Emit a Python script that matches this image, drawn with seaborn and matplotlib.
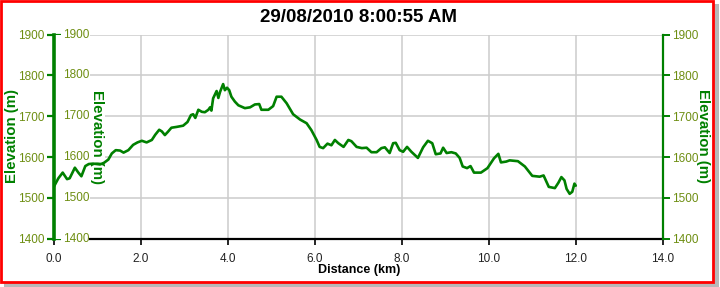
import matplotlib
matplotlib.use("Agg")
import matplotlib.pyplot as plt
import matplotlib.transforms as mtransforms
from matplotlib.patches import Rectangle
import seaborn as sns
import pandas as pd

# ---- data -------------------------------------------------------------
distance_km = [0.00, 0.10, 0.20, 0.30, 0.36, 0.48, 0.56, 0.63, 0.72, 0.80,
               0.90, 1.06, 1.15, 1.25, 1.33, 1.42, 1.52, 1.60, 1.71, 1.82,
               1.92, 2.02, 2.13, 2.25, 2.33, 2.42, 2.48, 2.55, 2.62, 2.70,
               2.82, 2.97, 3.07, 3.15, 3.20, 3.25, 3.32, 3.40, 3.47, 3.55,
               3.59, 3.62, 3.66, 3.74, 3.78, 3.82, 3.89, 3.93, 3.98, 4.03,
               4.08, 4.16, 4.24, 4.39, 4.51, 4.62, 4.72, 4.77, 4.93, 5.04,
               5.12, 5.23, 5.35, 5.50, 5.66, 5.81, 5.92, 6.04, 6.11, 6.19,
               6.29, 6.38, 6.46, 6.54, 6.66, 6.77, 6.84, 6.96, 7.08, 7.19,
               7.30, 7.42, 7.53, 7.61, 7.72, 7.80, 7.86, 7.95, 8.03, 8.12,
               8.22, 8.37, 8.49, 8.60, 8.70, 8.78, 8.89, 8.95, 9.03, 9.14,
               9.24, 9.33, 9.40, 9.50, 9.58, 9.66, 9.82, 9.97, 10.12, 10.22,
               10.28, 10.40, 10.48, 10.67, 10.83, 11.00, 11.17, 11.26, 11.38, 11.52,
               11.60, 11.67, 11.74, 11.79, 11.86, 11.92, 11.97, 12.00]
elevation_m = [1528, 1548, 1562, 1546, 1548, 1574, 1562, 1553, 1578, 1583,
               1584, 1582, 1586, 1594, 1609, 1617, 1616, 1611, 1617, 1630,
               1636, 1640, 1636, 1642, 1655, 1667, 1663, 1654, 1662, 1672,
               1674, 1677, 1686, 1703, 1705, 1696, 1716, 1711, 1710, 1716,
               1722, 1714, 1744, 1762, 1745, 1760, 1779, 1764, 1770, 1764,
               1748, 1736, 1727, 1720, 1722, 1729, 1730, 1716, 1716, 1725,
               1748, 1748, 1732, 1705, 1692, 1683, 1666, 1642, 1625, 1622,
               1633, 1629, 1642, 1634, 1625, 1642, 1639, 1625, 1622, 1623,
               1612, 1612, 1622, 1624, 1610, 1634, 1635, 1617, 1613, 1625,
               1613, 1598, 1624, 1640, 1634, 1607, 1609, 1623, 1610, 1612,
               1609, 1598, 1577, 1573, 1578, 1562, 1562, 1573, 1597, 1608,
               1587, 1589, 1592, 1590, 1577, 1554, 1552, 1555, 1527, 1524,
               1537, 1551, 1543, 1522, 1510, 1515, 1535, 1530]
y_ticks = [1400, 1500, 1600, 1700, 1800, 1900]
x_ticks = [0, 2, 4, 6, 8, 10, 12, 14]
x_tick_labels = ["0.0", "2.0", "4.0", "6.0", "8.0", "10.0", "12.0", "14.0"]
title_text = "29/08/2010 8:00:55 AM"
x_label = "Distance (km)"
y_label = "Elevation (m)"

df = pd.DataFrame({"distance": distance_km, "elevation": elevation_m})

# ---- style ------------------------------------------------------------
sns.set_theme(style="white")
plt.rcParams['font.family'] = ['Liberation Sans', 'DejaVu Sans']

GREEN = '#008000'
OLIVE = '#6E8E12'
W, H = 720, 287


def fx(px):
    return px / W


def fy(py):
    return 1 - py / H


fig = plt.figure(figsize=(7.2, 2.87), dpi=100)
fig.patch.set_facecolor('white')

# shadow + red frame
fig.add_artist(Rectangle((fx(4), fy(286.5)), fx(719) - fx(4), fy(4) - fy(286.5),
                         transform=fig.transFigure, facecolor='#B8B8B8',
                         edgecolor='none', zorder=-3))
fig.add_artist(Rectangle((fx(1.3), fy(281.5)), fx(713.3) - fx(1.3), fy(1.3) - fy(281.5),
                         transform=fig.transFigure, facecolor='white',
                         edgecolor='#FF0000', linewidth=2.0, zorder=-2))

ax = fig.add_axes([fx(54), fy(238.7), fx(662.7) - fx(54), fy(34.7) - fy(238.7)])
ax.set_facecolor('none')

sns.lineplot(data=df, x="distance", y="elevation", ax=ax, color=GREEN,
             linewidth=1.9, sort=False, estimator=None, zorder=2)

ax.set_xlim(0, 14)
ax.set_ylim(1400, 1900)
ax.set_xticks(x_ticks)
ax.set_xticklabels(x_tick_labels)
ax.set_yticks(y_ticks)
ax.set_yticklabels([str(v) for v in y_ticks])
ax.set_xlabel("")
ax.set_ylabel("")

ax.grid(True, color='#CCCCCC', linewidth=1.1)
ax.set_axisbelow(True)

ax.spines['top'].set_visible(False)
ax.spines['right'].set_visible(False)
ax.spines['left'].set_color(GREEN)
ax.spines['left'].set_linewidth(2.6)
ax.spines['bottom'].set_color('black')
ax.spines['bottom'].set_linewidth(1.6)
ax.spines['bottom'].set_bounds((90 - 54) / 43.48, 14)

ax.tick_params(axis='y', direction='inout', length=10, width=1.6, color=GREEN,
               labelcolor=OLIVE, labelsize=8.5, pad=2, left=True)
ax.tick_params(axis='x', direction='out', length=4, width=1.2, color='black',
               labelcolor='#222222', labelsize=8.5, pad=6, bottom=True)

# white strip at left of plot area (inner axis labels region)
ax.add_patch(Rectangle((0, 0), 36 / 608.7, 1, transform=ax.transAxes,
                       facecolor='white', edgecolor='none', zorder=0.8))

# inner duplicate axis labels
blend = mtransforms.blended_transform_factory(ax.transAxes, ax.transData)
for v in y_ticks:
    ax.text(9 / 608.7, v, str(v), transform=blend, ha='left', va='center',
            color=OLIVE, fontsize=8.5, zorder=1.7)
ax.text((97 - 54) / 608.7, 0.5, y_label, transform=ax.transAxes, rotation=270,
        ha='center', va='center', color=GREEN, fontsize=10.8, fontweight='bold',
        zorder=1.6, bbox=dict(facecolor='white', edgecolor='none', pad=0.8))

# right axis
ax2 = ax.twinx()
ax2.set_ylim(1400, 1900)
ax2.set_yticks(y_ticks)
ax2.set_yticklabels([str(v) for v in y_ticks])
ax2.grid(False)
for s in ['top', 'left', 'bottom']:
    ax2.spines[s].set_visible(False)
ax2.spines['right'].set_color(GREEN)
ax2.spines['right'].set_linewidth(1.6)
ax2.tick_params(axis='y', direction='out', length=5, width=1.4, color=GREEN,
                labelcolor=OLIVE, labelsize=8.5, pad=2, right=True)

# texts
fig.text(fx(358.3), fy(17.5), title_text, ha='center', va='center',
         fontsize=13.5, fontweight='bold', color='black')
fig.text(fx(359), fy(270), x_label, ha='center', va='center',
         fontsize=9, fontweight='bold', color='black')
fig.text(fx(11.7), fy(135.7), y_label, rotation=90, ha='center', va='center',
         fontsize=10.8, fontweight='bold', color=GREEN)
fig.text(fx(703.3), fy(135.7), y_label, rotation=270, ha='center', va='center',
         fontsize=10.8, fontweight='bold', color=GREEN)

fig.savefig("out.png", dpi=100)
